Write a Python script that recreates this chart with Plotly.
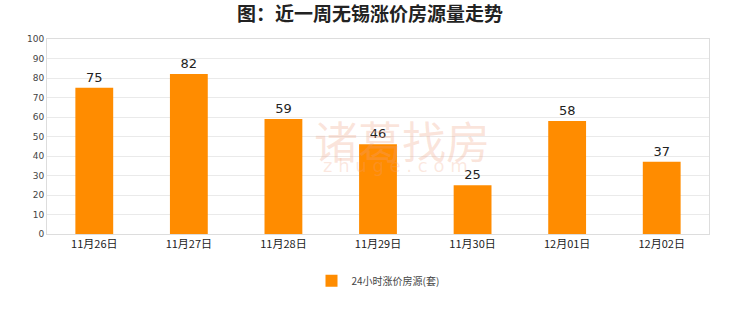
import plotly.graph_objects as go

categories = ["11月26日", "11月27日", "11月28日", "11月29日", "11月30日", "12月01日", "12月02日"]
values = [75, 82, 59, 46, 25, 58, 37]
series_name = "24小时涨价房源(套)"
title = "图：近一周无锡涨价房源量走势"
y_ticks = list(range(0, 101, 10))

fig = go.Figure()
fig.add_trace(go.Bar(
    x=categories, y=values, name=series_name,
    marker=dict(color="#FF8C00", line=dict(width=0)),
    text=values, textposition="outside",
    textfont=dict(size=13, color="#222", family="DejaVu Sans"),
    cliponaxis=False, showlegend=True,
))

fig.update_layout(
    width=740, height=312,
    margin=dict(l=47, r=31, t=39, b=78),
    paper_bgcolor="white", plot_bgcolor="white",
    title=dict(text="<b>" + title + "</b>", x=0.5, xanchor="center", y=0.955, yanchor="middle",
               font=dict(size=19, color="#222", family="Noto Sans CJK SC")),
    bargap=0.6,
    showlegend=True,
    legend=dict(orientation="h", x=0.5, xanchor="center", y=-0.24, yanchor="middle",
                font=dict(size=10, color="#444", family="Noto Sans CJK SC"),
                itemwidth=30),
    xaxis=dict(showgrid=False, showline=True, linecolor="#ddd", mirror=True,
               tickfont=dict(size=11, color="#222", family="Noto Sans CJK SC"), ticks=""),
    yaxis=dict(range=[0, 100], tickvals=y_ticks, showgrid=True, gridcolor="#eaeaea",
               showline=True, linecolor="#ddd", mirror=True, zeroline=False,
               tickfont=dict(size=9, color="#444", family="DejaVu Sans"), ticks=""),
)

fig.add_annotation(text="诸葛找房", x=0.536, y=0.48, xref="paper", yref="paper", showarrow=False,
                   font=dict(size=44, color="rgba(240,160,130,0.28)", family="Noto Sans CJK SC"))
fig.add_annotation(text="z h u g e . c o m", x=0.526, y=0.285, xref="paper", yref="paper", showarrow=False,
                   font=dict(size=18, color="rgba(240,160,130,0.25)", family="DejaVu Sans"))

fig.write_html("out.html")
